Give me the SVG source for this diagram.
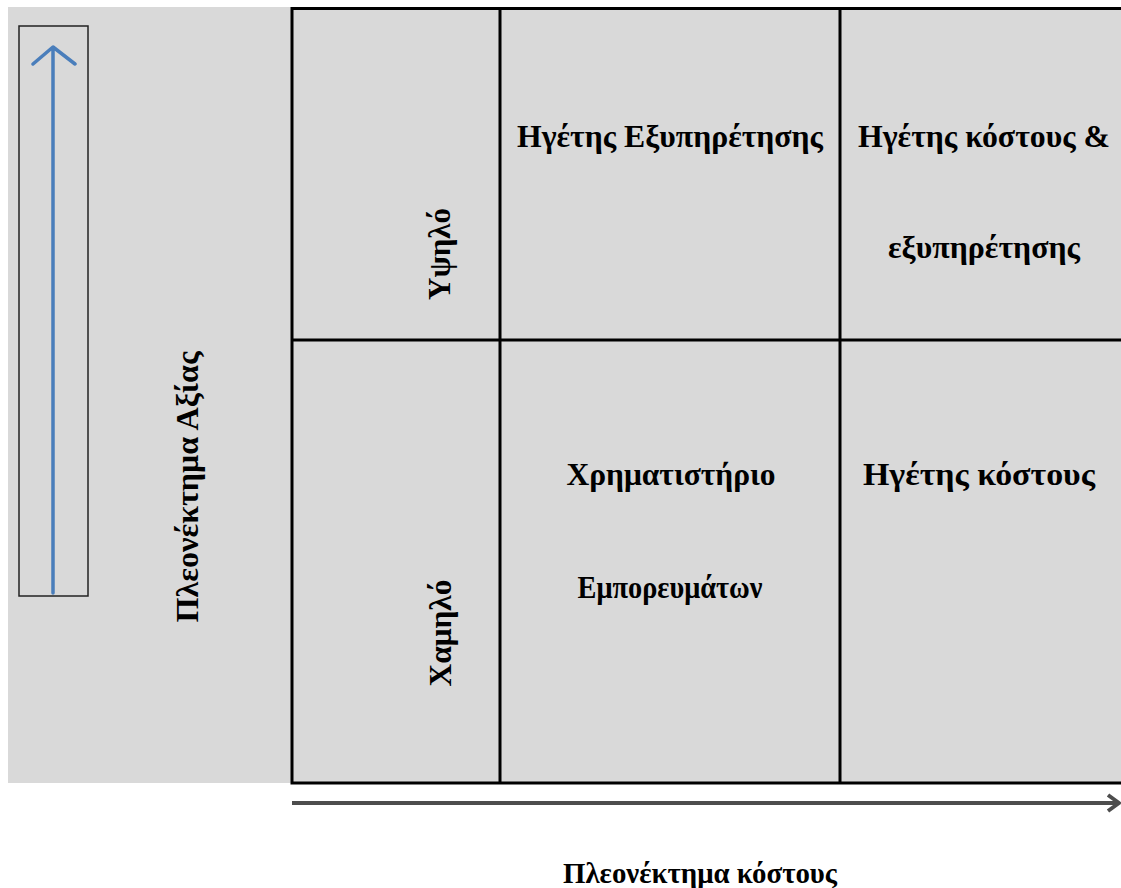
<svg xmlns="http://www.w3.org/2000/svg" width="1121" height="888" viewBox="0 0 1121 888">
<style>
.t{font-family:"Liberation Serif","Times New Roman",serif;font-weight:bold;font-size:32px;fill:#000;}
.s{font-size:29px;}
.e{font-size:31px;}
.grid{stroke:#000;stroke-width:3;fill:none;}
</style>
<rect x="0" y="0" width="1121" height="888" fill="#fff"/>
<g id="background">
<rect x="8" y="7" width="1113" height="776" fill="#d9d9d9"/>
</g>
<g id="axis-box">
<rect x="19" y="26" width="69" height="570" fill="none" stroke="#222" stroke-width="1.5"/>
</g>
<g id="connectors">
<path d="M53 593 V48 M33 64 L53 47 L75 64" fill="none" stroke="#4a7ebb" stroke-width="3.5" stroke-linecap="round" stroke-linejoin="round"/>
<path d="M292 803 H1118 M1108 795 L1119 803 L1108 811" fill="none" stroke="#4d4d4d" stroke-width="4" stroke-linejoin="round"/>
</g>
<g id="grid">
<path class="grid" d="M292 8.5 H1121 M292 340 H1121 M292 783 H1121 M292 7 V784.5 M500 7 V784.5 M840 7 V784.5"/>
</g>
<g id="label-value">
<text class="t" transform="translate(198 487) rotate(-90)" text-anchor="middle" textLength="271" lengthAdjust="spacingAndGlyphs">Πλεονέκτημα Αξίας</text>
</g>
<g id="label-high">
<text class="t" transform="translate(450 254) rotate(-90)" text-anchor="middle" textLength="92" lengthAdjust="spacingAndGlyphs">Υψηλό</text>
</g>
<g id="label-low">
<text class="t" transform="translate(451 633) rotate(-90)" text-anchor="middle" textLength="107" lengthAdjust="spacingAndGlyphs">Χαμηλό</text>
</g>
<g id="cell-service">
<text class="t" x="670" y="147" text-anchor="middle" textLength="306" lengthAdjust="spacingAndGlyphs">Ηγέτης Εξυπηρέτησης</text>
</g>
<g id="cell-both">
<text class="t" x="984" y="147" text-anchor="middle" textLength="252" lengthAdjust="spacingAndGlyphs">Ηγέτης κόστους &amp;</text>
<text class="t" x="984" y="258" text-anchor="middle" textLength="192" lengthAdjust="spacingAndGlyphs">εξυπηρέτησης</text>
</g>
<g id="cell-commodity">
<text class="t" x="671" y="485" text-anchor="middle" textLength="209" lengthAdjust="spacingAndGlyphs">Χρηματιστήριο</text>
<text class="t e" x="670" y="598" text-anchor="middle" textLength="185" lengthAdjust="spacingAndGlyphs">Εμπορευμάτων</text>
</g>
<g id="cell-cost">
<text class="t" x="979" y="485" text-anchor="middle" textLength="232" lengthAdjust="spacingAndGlyphs">Ηγέτης κόστους</text>
</g>
<g id="label-cost">
<text class="t s" x="700" y="883" text-anchor="middle" textLength="274" lengthAdjust="spacingAndGlyphs">Πλεονέκτημα κόστους</text>
</g>
</svg>
